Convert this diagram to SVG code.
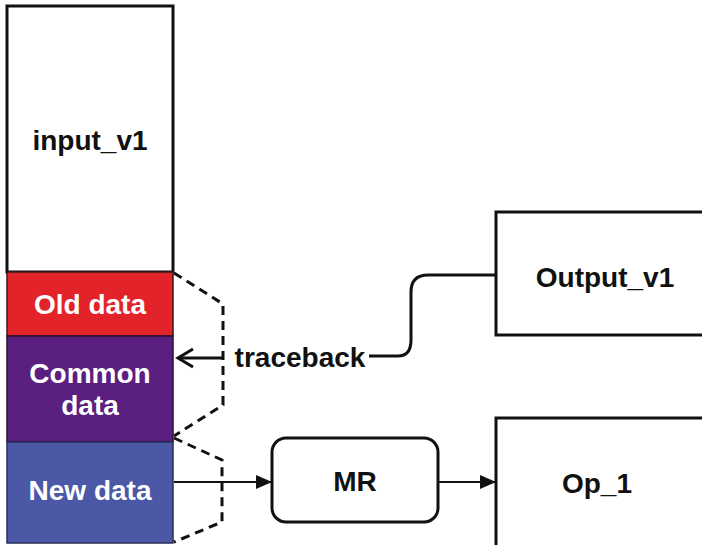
<svg xmlns="http://www.w3.org/2000/svg" width="702" height="545" viewBox="0 0 702 545">
<defs>
<style>
.box{fill:#fff;stroke:#111;stroke-width:3}
.lbl{font-family:"Liberation Sans",Arial,sans-serif;font-weight:bold;font-size:28px;text-anchor:middle;dominant-baseline:central;fill:#111}
.wl{fill:#fff}
.dash{fill:none;stroke:#111;stroke-width:3;stroke-dasharray:9,6}
.conn{fill:none;stroke:#111;stroke-width:2}
.thick{stroke-width:3}
</style>
<marker id="tri" markerWidth="16" markerHeight="16" refX="15" refY="8" orient="auto" markerUnits="userSpaceOnUse">
<path d="M0,1 L16,8 L0,15 Z" fill="#111"/>
</marker>
</defs>
<g id="input_v1">
<rect class="box" x="7" y="6" width="166" height="266"/>
<text class="lbl" x="90" y="140">input_v1</text>
</g>
<g id="old_data">
<rect x="7" y="272" width="166" height="64" fill="#e3232a" stroke="#3a1a1a" stroke-width="1.5"/>
<text class="lbl wl" x="90" y="304">Old data</text>
</g>
<g id="common_data">
<rect x="7" y="336" width="166" height="106" fill="#5a1f7f" stroke="#2a1030" stroke-width="1.5"/>
<text class="lbl wl" x="90" y="373">Common</text>
<text class="lbl wl" x="90" y="405">data</text>
</g>
<g id="new_data">
<rect x="7" y="442" width="166" height="101" fill="#4b58a6" stroke="#2a2f5a" stroke-width="1.5"/>
<text class="lbl wl" x="90" y="490">New data</text>
</g>
<g id="output_v1">
<rect class="box" x="496" y="212" width="220" height="123"/>
<text class="lbl" x="605" y="277">Output_v1</text>
</g>
<g id="mr">
<rect class="box" x="272" y="438" width="166" height="84" rx="14" ry="14"/>
<text class="lbl" x="355" y="481">MR</text>
</g>
<g id="op_1">
<rect class="box" x="496" y="418" width="220" height="140"/>
<text class="lbl" x="597" y="483">Op_1</text>
</g>
<g id="connectors">
<path class="dash" d="M174,273 L223,304 L223,405 L174,436"/>
<path class="dash" d="M174,438 L222,460 L222,522 L174,542"/>
<path class="conn thick" d="M224,358 L178,358"/>
<path class="conn thick" d="M193,349 L178,358 L193,367"/>
<text class="lbl" x="300" y="357">traceback</text>
<path class="conn thick" d="M369,356 L398,356 Q411,356 411,340 L411,292 Q411,275 428,275 L496,275"/>
<path class="conn" d="M174,482 L271,482" marker-end="url(#tri)"/>
<path class="conn" d="M439,482 L495,482" marker-end="url(#tri)"/>
</g>
</svg>
